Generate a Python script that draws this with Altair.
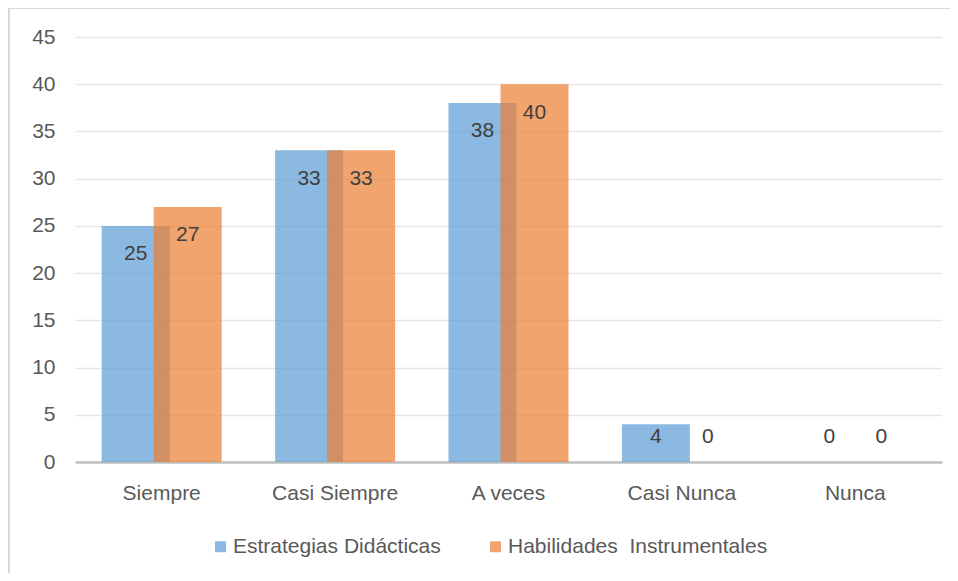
import altair as alt
import pandas as pd

categories = ["Siempre", "Casi Siempre", "A veces", "Casi Nunca", "Nunca"]
estrategias = [25, 33, 38, 4, 0]
habilidades = [27, 33, 40, 0, 0]
series_names = ["Estrategias Didácticas", "Habilidades\u00a0 Instrumentales"]
series_colors = ["#5B9BD5", "#ED7D31"]
y_ticks = [0, 5, 10, 15, 20, 25, 30, 35, 40, 45]

rows = []
for c, e, h in zip(categories, estrategias, habilidades):
    rows.append({"cat": c, "serie": series_names[0], "value": e})
    rows.append({"cat": c, "serie": series_names[1], "value": h})
df = pd.DataFrame(rows)

FONT = "Liberation Sans"
FS = 21
W, H = 867, 425

xenc = alt.X("cat:N", sort=categories, title=None,
             scale=alt.Scale(paddingInner=0, paddingOuter=0),
             axis=alt.Axis(labelAngle=0, ticks=False, domain=True, domainColor="#BFBFBF",
                           domainWidth=2.5, labelPadding=20, labelFontSize=FS,
                           labelColor="#595959", labelFont=FONT, grid=False))
yenc = alt.Y("value:Q", title=None,
             scale=alt.Scale(domain=[0, 45], nice=False),
             axis=alt.Axis(values=y_ticks, ticks=False, domain=False, labelPadding=20,
                           labelFontSize=FS, labelColor="#595959", labelFont=FONT,
                           grid=True, gridColor="#E6E6E6", gridWidth=1.5))
color = alt.Color("serie:N", scale=alt.Scale(domain=series_names, range=series_colors),
                  title=None,
                  legend=alt.Legend(orient="none", legendX=135, legendY=499, direction="horizontal",
                                    symbolType="square", symbolSize=121, symbolOpacity=0.7,
                                    symbolStrokeWidth=0, labelFontSize=FS, labelFont=FONT,
                                    labelColor="#595959", columnPadding=44, labelOffset=2,
                                    labelLimit=0))

base = alt.Chart(df)

bars_a = base.transform_filter(alt.datum.serie == series_names[0]).mark_bar(
    width=68, xOffset=-26, opacity=0.7).encode(x=xenc, y=yenc, color=color)
bars_b = base.transform_filter(alt.datum.serie == series_names[1]).mark_bar(
    width=68, xOffset=26, opacity=0.7).encode(x=xenc, y=yenc, color=color)

def labels(name, off):
    return base.transform_filter(alt.datum.serie == name).transform_calculate(
        ly="max(datum.value - 3, 2.65)").mark_text(
        xOffset=off, fontSize=FS, font=FONT, color="#404040", baseline="middle").encode(
        x=alt.X("cat:N", sort=categories), y=alt.Y("ly:Q"), text="value:Q")

lab_a = labels(series_names[0], -26)
lab_b = labels(series_names[1], 26)

frame_top = alt.Chart(pd.DataFrame({"a": [0]})).mark_rule(color="#D9D9D9", strokeWidth=2).encode(
    x=alt.value(-66), x2=alt.value(W + 10), y=alt.value(-29))
frame_left = alt.Chart(pd.DataFrame({"a": [0]})).mark_rule(color="#D9D9D9", strokeWidth=2).encode(
    x=alt.value(-66), y=alt.value(-29), y2=alt.value(H + 120))

chart = alt.layer(bars_a, bars_b, lab_a, lab_b, frame_top, frame_left).properties(
    width=W, height=H,
    padding={"left": 67, "top": 29, "right": 8, "bottom": 111},
    autosize=alt.AutoSizeParams(type="none"),
    background="white",
).configure_view(stroke=None)

chart.save("out.html", embed_options={"renderer": "svg", "actions": False})
